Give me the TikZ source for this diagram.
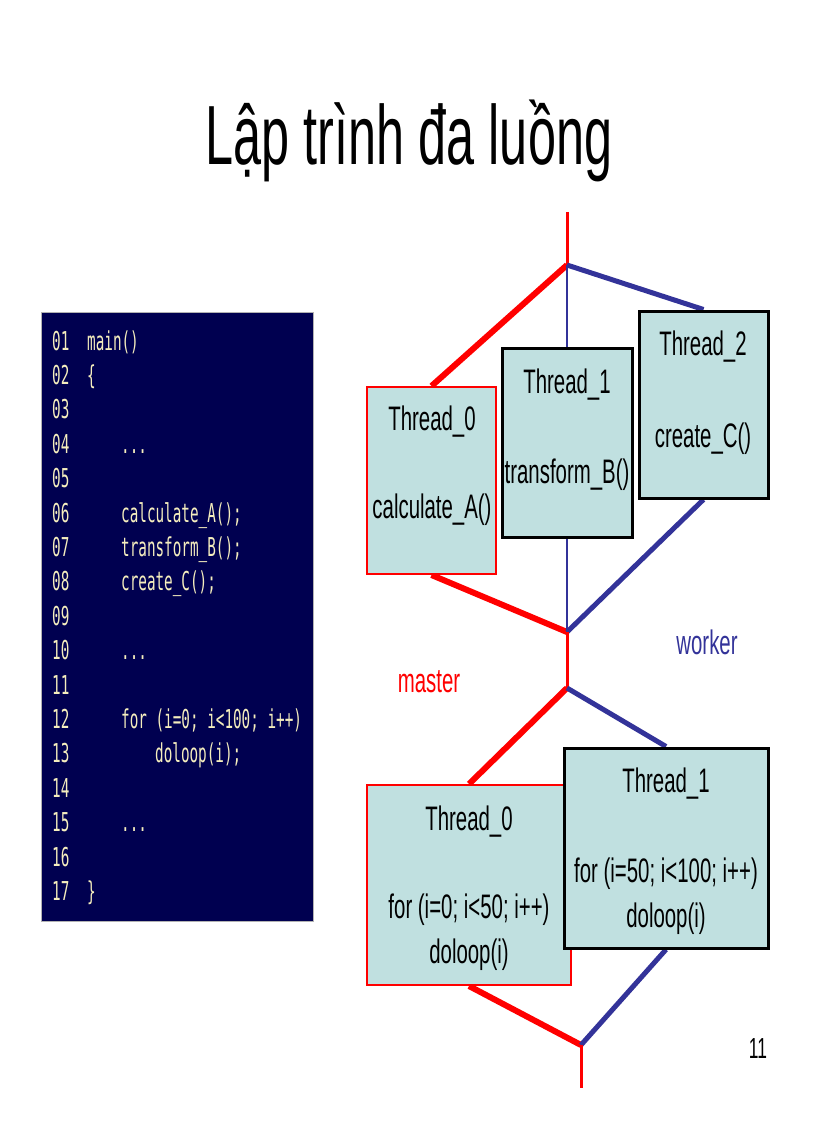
\documentclass[tikz,border=0pt]{standalone}
\usepackage{fontspec}
\setmainfont{Liberation Sans}[FakeStretch=0.6]
\newfontfamily\codefont{DejaVu Sans Mono}[FakeStretch=0.55]
\definecolor{tred}{RGB}{255,0,0}
\definecolor{tblue}{RGB}{51,51,153}
\definecolor{tfill}{RGB}{192,224,224}
\definecolor{codebg}{RGB}{0,0,80}
\definecolor{codefg}{RGB}{245,238,190}
\tikzset{
  redbox/.style={draw=tred,line width=2pt,fill=tfill,inner sep=0pt},
  blackbox/.style={draw=black,line width=3pt,fill=tfill,inner sep=0pt},
  lbl/.style={anchor=base,inner sep=0pt,font=\fontsize{34}{40}\selectfont},
  code/.style={anchor=base west,inner sep=0pt,text=codefg,font=\codefont\fontsize{26}{30}\selectfont},
  redthick/.style={draw=tred,line width=6pt},
  redthin/.style={draw=tred,line width=3pt},
  bluethick/.style={draw=tblue,line width=5pt},
  bluethin/.style={draw=tblue,line width=2.5pt},
}
\begin{document}
\begin{tikzpicture}[x=1pt,y=-1pt]
\useasboundingbox (0,0) rectangle (816,1123);
% title
\node[anchor=base,inner sep=0pt,font=\fontsize{84}{90}\selectfont] (title) at (409,165) {Lập trình đa luồng};
% code panel
\node[draw=gray!60,line width=1pt,fill=codebg,minimum width=272pt,minimum height=609pt,inner sep=0pt,anchor=north west] (panel) at (41,312) {};
\foreach \n [count=\i] in {01,02,03,04,05,06,07,08,09,10,11,12,13,14,15,16,17}{
  \node[code] (ln\i) at (52,{350+34.4*(\i-1)}) {\n};
}
\node[code] (c1) at (87,350) {main()};
\node[code] (c2) at (87,384.4) {\{};
\node[code] (c4) at (121,453.2) {...};
\node[code] (c6) at (121,522) {calculate\_A();};
\node[code] (c7) at (121,556.4) {transform\_B();};
\node[code] (c8) at (121,590.8) {create\_C();};
\node[code] (c10) at (121,659.6) {...};
\node[code] (c12) at (121,728.4) {for (i=0; i<100; i++)};
\node[code] (c13) at (155,762.8) {doloop(i);};
\node[code] (c15) at (121,831.6) {...};
\node[code] (c17) at (87,900.4) {\}};
% coordinates
\coordinate (top1) at (567,212);
\coordinate (s1) at (567,265);
\coordinate (j1) at (567,632);
\coordinate (s2) at (567,688);
\coordinate (j2) at (581,1045);
\coordinate (bot) at (581,1088);
% upper boxes (named, for the connectors)
\path (431.5,480.5) node[redbox,minimum width=129pt,minimum height=187pt] (a0) {};
\path (567,442.5) node[blackbox,minimum width=130pt,minimum height=189pt] (a1) {};
\path (703.5,404.5) node[blackbox,minimum width=129pt,minimum height=187pt] (a2) {};
% upper connectors
\draw[redthin] (top1) -- (s1);
\draw[redthick] (s1) -- (a0.north);
\draw[bluethin] (s1) -- (a1.north);
\draw[bluethick] (s1) -- (a2.north);
\draw[redthick] (a0.south) -- (j1);
\draw[bluethin] (a1.south) -- (j1);
\draw[bluethick] (a2.south) -- (j1);
\draw[redthin] (j1) -- (s2);
% boxes again on top of the line ends
\path (431.5,480.5) node[redbox,minimum width=129pt,minimum height=187pt] {};
\path (567,442.5) node[blackbox,minimum width=130pt,minimum height=189pt] {};
\path (703.5,404.5) node[blackbox,minimum width=129pt,minimum height=187pt] {};
\node[lbl] (a0t) at (432,430) {Thread\_0};
\node[lbl] (a0c) at (432,518) {calculate\_A()};
\node[lbl] (a1t) at (567,393) {Thread\_1};
\node[lbl] (a1c) at (567,483) {transform\_B()};
\node[lbl] (a2t) at (703,355) {Thread\_2};
\node[lbl] (a2c) at (703,447) {create\_C()};
% labels
\node[lbl,text=tblue] (worker) at (707,654) {worker};
\node[lbl,text=tred] (master) at (429,692) {master};
% lower boxes
\path (469,885) node[redbox,minimum width=204pt,minimum height=200pt] (b0) {};
\path (666,848) node[blackbox,minimum width=204pt,minimum height=200pt] (b1) {};
\draw[redthick] (s2) -- (b0.north);
\draw[bluethick] (s2) -- (b1.north);
\draw[redthick] (b0.south) -- (j2);
\draw[bluethick] (b1.south) -- (j2);
\draw[redthin] (j2) -- (bot);
\path (469,885) node[redbox,minimum width=204pt,minimum height=200pt] {};
\path (666,848) node[blackbox,minimum width=204pt,minimum height=200pt] {};
\node[lbl] (b0t) at (469,830) {Thread\_0};
\node[lbl] (b0c) at (469,918) {for (i=0; i<50; i++)};
\node[lbl] (b0d) at (469,963) {doloop(i)};
\node[lbl] (b1t) at (666,792) {Thread\_1};
\node[lbl] (b1c) at (666,882) {for (i=50; i<100; i++)};
\node[lbl] (b1d) at (666,927) {doloop(i)};
% page number
\node[anchor=base,inner sep=0pt,font=\fontsize{29}{32}\selectfont] (pg) at (758,1058) {11};
\end{tikzpicture}
\end{document}
